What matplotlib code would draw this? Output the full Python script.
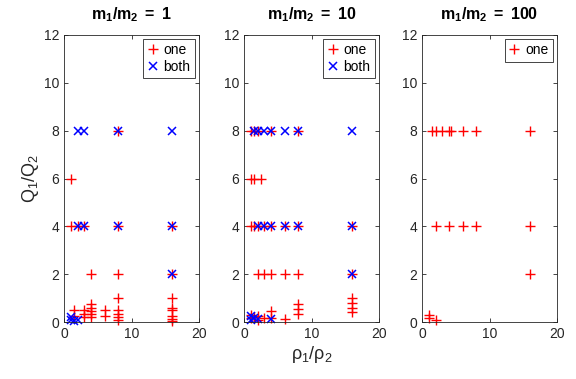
import numpy as np
import matplotlib.pyplot as plt

plt.rcParams['font.family'] = ['Liberation Sans', 'DejaVu Sans']
plt.rcParams['mathtext.fontset'] = 'custom'
plt.rcParams['mathtext.rm'] = 'Liberation Sans'
plt.rcParams['mathtext.it'] = 'Liberation Sans:italic'
plt.rcParams['mathtext.bf'] = 'Liberation Sans:bold'

mass_ratios = [1, 10, 100]

# m1/m2 = 1
one_x_1  = [8, 1, 1, 2, 3, 8, 16, 4, 8, 16, 8, 16,
            1.5, 1.5, 3, 3, 3, 4, 4, 4, 4, 4, 6, 6, 8, 8, 8, 8,
            16, 16, 16, 16, 16]
one_y_1  = [8, 6, 4, 4, 4, 4, 4, 2, 2, 2, 1, 1,
            0.5, 0.25, 0.5, 0.33, 0.2, 0.75, 0.6, 0.45, 0.33, 0.2, 0.5, 0.25, 0.5, 0.33, 0.2, 0.1,
            0.6, 0.5, 0.25, 0.125, 0.05]
both_x_1 = [2, 3, 8, 16, 2, 3, 8, 16, 16, 1, 1, 1.5, 2]
both_y_1 = [8, 8, 8, 8, 4, 4, 4, 4, 2, 0.2, 0.1, 0.05, 0.1]

# m1/m2 = 10
one_x_10  = [1, 1.5, 2, 4, 8, 1, 1.5, 2.5, 1, 1.5, 2, 3, 4, 6, 8, 16,
             2, 3, 4, 6, 8, 16, 16, 16, 16, 16,
             8, 8, 8, 4, 4, 6, 1, 1, 1.5, 2, 2, 3]
one_y_10  = [8, 8, 8, 8, 8, 6, 6, 6, 4, 4, 4, 4, 4, 4, 4, 4,
             2, 2, 2, 2, 2, 2, 1, 0.8, 0.6, 0.4,
             0.75, 0.55, 0.35, 0.47, 0.17, 0.14, 0.3, 0.15, 0.2, 0.25, 0.1, 0.15]
both_x_10 = [1.5, 2, 3, 4, 6, 8, 16, 2, 3, 4, 6, 8, 16, 16,
             1, 1, 1.5, 2, 4]
both_y_10 = [8, 8, 8, 8, 8, 8, 8, 4, 4, 4, 4, 4, 4, 2,
             0.25, 0.1, 0.15, 0.12, 0.12]

# m1/m2 = 100
one_x_100 = [1.5, 2, 3, 4, 4.3, 6, 8, 16, 2, 4, 6, 8, 16, 16, 1, 1, 2]
one_y_100 = [8, 8, 8, 8, 8, 8, 8, 8, 4, 4, 4, 4, 4, 2, 0.3, 0.15, 0.1]

panels = [
    (one_x_1, one_y_1, both_x_1, both_y_1),
    (one_x_10, one_y_10, both_x_10, both_y_10),
    (one_x_100, one_y_100, [], []),
]

fig = plt.figure(figsize=(5.76, 3.79), dpi=100)
lefts = [64, 244, 422]
for i, (ox, oy, bx, by) in enumerate(panels):
    ax = fig.add_axes([lefts[i] / 576, 1 - 322 / 379, 135 / 576, 287 / 379])
    ax.plot(ox, oy, '+', color='red', ms=7, mew=1.0, label='one', clip_on=False)
    if len(bx) > 0:
        ax.plot(bx, by, 'x', color='blue', ms=5.5, mew=1.1, label='both', clip_on=False)
    ax.set_xlim(0, 20)
    ax.set_ylim(0, 12)
    ax.set_xticks([0, 10, 20])
    ax.set_yticks(np.arange(0, 13, 2))
    ax.tick_params(direction='in', top=True, right=True, labelsize=10,
                   colors='0.15', length=3, width=0.6)
    for s in ax.spines.values():
        s.set_color('0.15')
        s.set_linewidth(0.6)
    ax.set_title(r'$\mathbf{m_1/m_2}$ $\mathbf{=}$ $\mathbf{%d}$' % mass_ratios[i],
                 fontsize=11.5, pad=11)
    leg = ax.legend(loc='upper right', fontsize=10, fancybox=False, framealpha=1,
                    edgecolor='0.15', handlelength=0.8, handletextpad=0.4,
                    borderpad=0.3, labelspacing=0.2, borderaxespad=0.3)
    leg.get_frame().set_linewidth(0.6)
    if i == 0:
        ax.set_ylabel(r'$\mathrm{Q_1/Q_2}$', fontsize=13, color='0.15', labelpad=2)
    if i == 1:
        ax.set_xlabel(r'$\mathrm{\rho_1/\rho_2}$', fontsize=13, color='0.15', labelpad=2)

fig.savefig('out.png', dpi=100)
